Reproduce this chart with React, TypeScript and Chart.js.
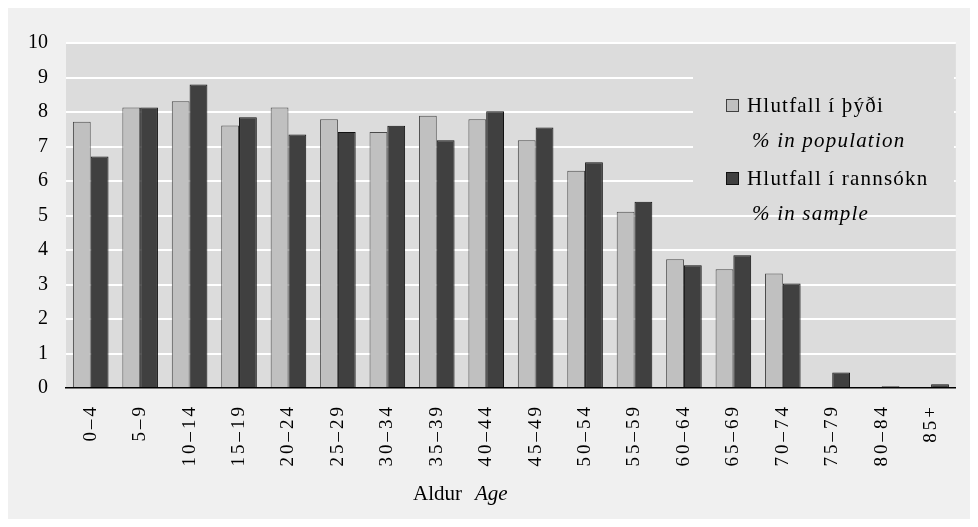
import React, { useEffect, useRef } from "react";
import { Chart, registerables } from "chart.js";

Chart.register(...registerables);

const categories = [
  "0–4", "5–9", "10–14", "15–19", "20–24", "25–29", "30–34", "35–39", "40–44",
  "45–49", "50–54", "55–59", "60–64", "65–69", "70–74", "75–79", "80–84", "85+",
];
const populationValues = [
  7.72, 8.13, 8.31, 7.61, 8.13, 7.79, 7.42, 7.89, 7.79,
  7.18, 6.3, 5.11, 3.73, 3.44, 3.32, 0, 0, 0,
];
const sampleValues = [
  6.71, 8.13, 8.8, 7.85, 7.35, 7.42, 7.6, 7.18, 8.02,
  7.55, 6.54, 5.4, 3.56, 3.85, 3.03, 0.45, 0.05, 0.11,
];
const yTicks = [0, 1, 2, 3, 4, 5, 6, 7, 8, 9, 10];
const legendPopulation = "Hlutfall í þýði";
const legendPopulationEn = "% in population";
const legendSample = "Hlutfall í rannsókn";
const legendSampleEn = "% in sample";
const axisTitleIs = "Aldur";
const axisTitleEn = "Age";

const SERIF = "'Liberation Serif', 'Times New Roman', serif";
const LIGHT = "#c0c0c0";
const DARK = "#404040";
const PLOT_BG = "#dcdcdc";

const customPlugin = {
  id: "custom",
  beforeDraw(chart: any) {
    const { ctx, chartArea } = chart;
    ctx.save();
    ctx.fillStyle = PLOT_BG;
    ctx.fillRect(chartArea.left, chartArea.top, chartArea.right - chartArea.left, chartArea.bottom - chartArea.top);
    ctx.restore();
    const sx = chart.scales.x;
    if (sx && !sx._lsWrapped) {
      const orig = sx.drawLabels.bind(sx);
      sx.drawLabels = (area: any) => {
        const prev = ctx.letterSpacing;
        ctx.letterSpacing = "3px";
        orig(area);
        ctx.letterSpacing = prev || "0px";
      };
      sx._lsWrapped = true;
    }
  },
  beforeDatasetsDraw(chart: any) {
    const { ctx } = chart;
    ctx.save();
    ctx.fillStyle = PLOT_BG;
    ctx.fillRect(685, 52, 261, 140);
    ctx.restore();
  },
  afterDraw(chart: any) {
    const { ctx } = chart;
    ctx.save();
    ctx.textBaseline = "alphabetic";
    ctx.textAlign = "left";
    ctx.lineWidth = 1;
    ctx.fillStyle = LIGHT;
    ctx.fillRect(718.5, 91.5, 12, 12);
    ctx.strokeStyle = "#404040";
    ctx.strokeRect(718.5, 91.5, 12, 12);
    ctx.fillStyle = DARK;
    ctx.fillRect(718.5, 164.5, 12, 12);
    ctx.strokeStyle = "#111";
    ctx.strokeRect(718.5, 164.5, 12, 12);
    ctx.fillStyle = "#000";
    ctx.letterSpacing = "1.2px";
    ctx.font = `21px ${SERIF}`;
    ctx.fillText(legendPopulation, 739, 104);
    ctx.fillText(legendSample, 739, 177);
    ctx.font = `italic 21px ${SERIF}`;
    ctx.fillText(legendPopulationEn, 744, 139);
    ctx.fillText(legendSampleEn, 744, 212);
    ctx.letterSpacing = "0px";
    ctx.font = `21px ${SERIF}`;
    ctx.fillText(axisTitleIs, 405, 492);
    ctx.font = `italic 21px ${SERIF}`;
    ctx.fillText(axisTitleEn, 467, 492);
    ctx.restore();
  },
};

export default function App() {
  const canvasRef = useRef<HTMLCanvasElement | null>(null);

  useEffect(() => {
    if (!canvasRef.current) return;
    const chart = new Chart(canvasRef.current, {
      type: "bar",
      data: {
        labels: categories,
        datasets: [
          {
            label: legendPopulation,
            data: populationValues,
            backgroundColor: LIGHT,
            borderColor: "#4a4a4a",
            borderWidth: 1,
            categoryPercentage: 0.72,
            barPercentage: 1,
          },
          {
            label: legendSample,
            data: sampleValues,
            backgroundColor: DARK,
            borderColor: "#111111",
            borderWidth: 1,
            categoryPercentage: 0.72,
            barPercentage: 1,
          },
        ],
      },
      options: {
        animation: false,
        responsive: true,
        maintainAspectRatio: false,
        layout: { padding: { left: 0, right: 3, top: 35, bottom: 0 } },
        plugins: {
          legend: { display: false },
          tooltip: { enabled: false },
          title: { display: false },
        },
        scales: {
          x: {
            grid: { display: false, drawTicks: false },
            border: { display: true, color: "#000", width: 1.5 },
            ticks: {
              autoSkip: false,
              maxRotation: 90,
              minRotation: 90,
              padding: 16,
              color: "#000",
              font: { family: SERIF, size: 19 },
            },
            afterFit: (scale: any) => {
              scale.height = 131;
            },
          },
          y: {
            min: 0,
            max: 10,
            afterBuildTicks: (scale: any) => {
              scale.ticks = yTicks.map((v) => ({ value: v }));
            },
            grid: {
              drawTicks: false,
              lineWidth: 2,
              color: (c: any) => (c.tick && c.tick.value === 0 ? "rgba(0,0,0,0)" : "#ffffff"),
            },
            border: { display: false },
            ticks: {
              padding: 18,
              color: "#000",
              font: { family: SERIF, size: 20 },
            },
            afterFit: (scale: any) => {
              scale.width = 58;
            },
          },
        },
      },
      plugins: [customPlugin],
    });
    return () => chart.destroy();
  }, []);

  return (
    <div style={{ width: 962, height: 511, background: "#f0f0f0", position: "relative" }}>
      <canvas ref={canvasRef} />
    </div>
  );
}
